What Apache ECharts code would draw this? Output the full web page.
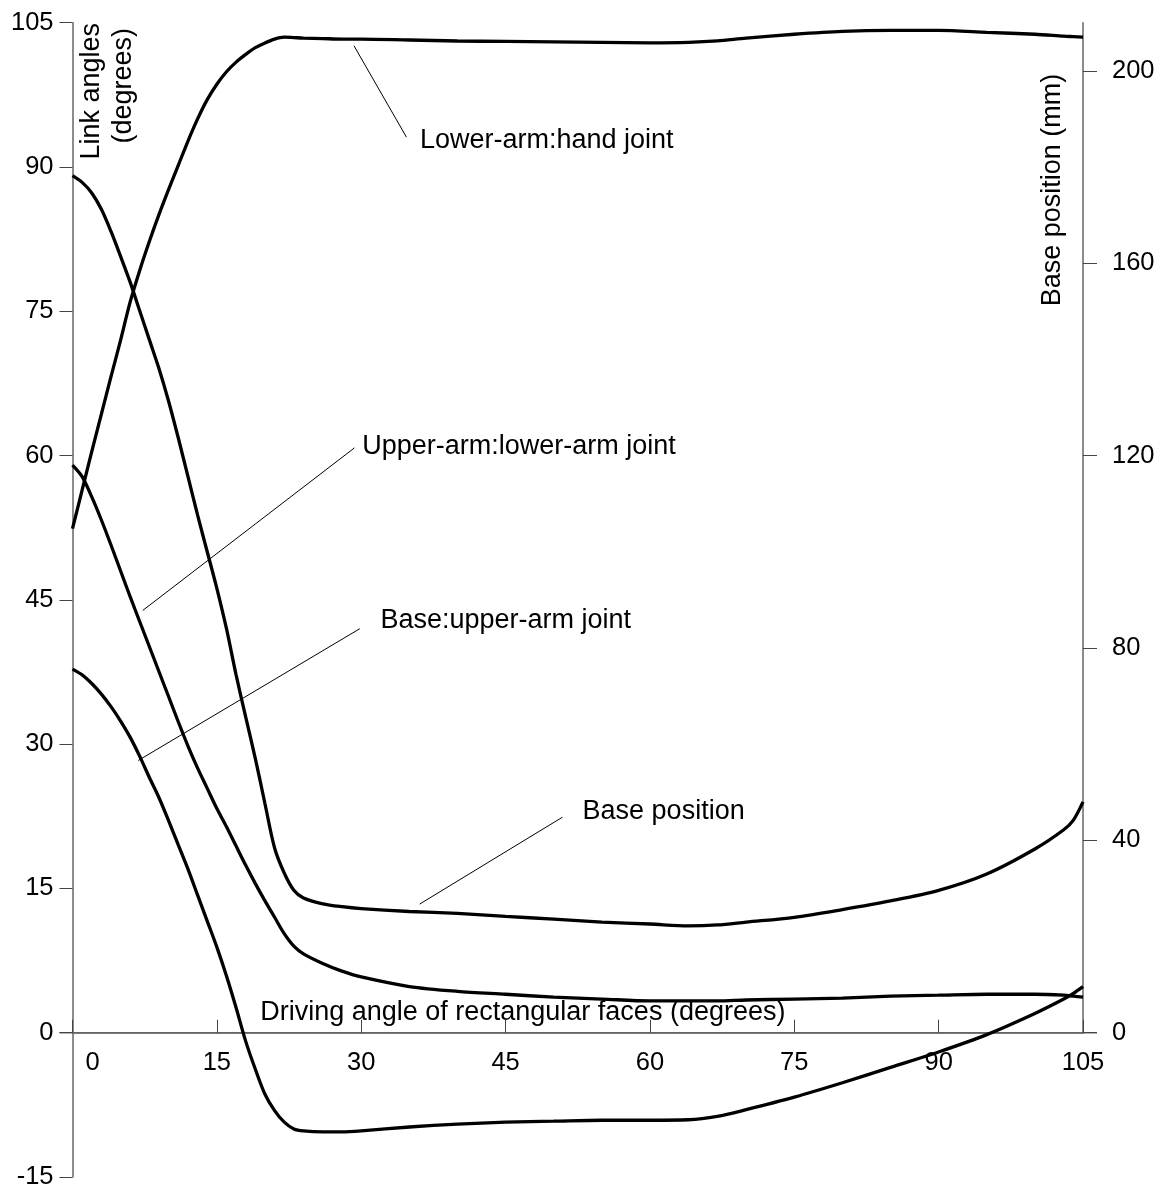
<!DOCTYPE html>
<html>
<head>
<meta charset="utf-8">
<script src="https://cdn.jsdelivr.net/npm/echarts@6.0.0/dist/echarts.min.js"></script>
<style>
  html, body { margin: 0; padding: 0; background: #fff; }
  #main { width: 1172px; height: 1191px; }
</style>
</head>
<body>
<div id="main"></div>
<script>
// driving angle (degrees), shared by all curves
var drivingAngle = [0, 1, 2, 3, 4, 5, 6, 7, 8, 9, 10, 11, 12, 13, 14, 15, 16, 17, 18, 19, 20, 21, 22, 23, 24,
    26, 28, 30, 35, 40, 45, 50, 55, 60, 64, 67, 70, 75, 80, 85, 90, 95, 100, 103, 104, 105];

// link angles (degrees)
var lowerArmHand = [52.4, 56.4, 60.4, 64.3, 68.2, 72.0, 76.0, 79.3, 82.3, 85.1, 87.7, 90.2, 92.7, 95.0, 97.0, 98.6, 99.9, 100.9, 101.7, 102.4, 102.9, 103.3, 103.5, 103.45, 103.4,
    103.35, 103.3, 103.3, 103.2, 103.1, 103.05, 103.0, 102.95, 102.9, 102.95, 103.1, 103.4, 103.8, 104.1, 104.2, 104.2, 104.0, 103.8, 103.6, 103.55, 103.5];
var upperArmLowerArm = [59.0, 57.8, 55.7, 53.3, 50.7, 48.0, 45.3, 42.7, 40.1, 37.5, 34.9, 32.3, 29.8, 27.5, 25.4, 23.3, 21.4, 19.4, 17.4, 15.5, 13.7, 12.0, 10.3, 9.0, 8.2,
    7.2, 6.4, 5.8, 4.8, 4.3, 4.0, 3.7, 3.5, 3.3, 3.3, 3.3, 3.4, 3.5, 3.6, 3.8, 3.9, 4.0, 4.0, 3.9, 3.8, 3.7];
var baseUpperArm = [37.8, 37.2, 36.3, 35.2, 33.9, 32.4, 30.7, 28.7, 26.5, 24.4, 22.0, 19.5, 17.0, 14.3, 11.6, 8.9, 5.9, 2.6, -0.9, -3.8, -6.4, -8.1, -9.3, -10.0, -10.2,
    -10.3, -10.3, -10.2, -9.8, -9.5, -9.3, -9.2, -9.1, -9.1, -9.05, -8.7, -8.0, -6.7, -5.2, -3.6, -2.0, -0.2, 2.0, 3.5, 4.1, 4.8];

// base position (mm), right axis
var basePosition = [178.2, 176.8, 174.6, 171.2, 166.6, 161.4, 156.0, 150.0, 144.0, 138.0, 131.2, 123.6, 115.6, 107.6, 100.0, 92.4, 84.0, 74.4, 65.6, 57.0, 47.6, 38.4, 33.2, 29.6, 28.0,
    26.8, 26.2, 25.8, 25.2, 24.8, 24.2, 23.6, 23.0, 22.6, 22.2, 22.4, 23.0, 24.0, 25.6, 27.4, 29.6, 33.0, 38.2, 42.2, 44.2, 48.0];

var rightTicks = [0, 40, 80, 120, 160, 200];

// annotations: [text, x, y] in data coords of the left axis, and leader lines
var labels = [
    ['Lower-arm:hand joint', 36.1, 92.8],
    ['Upper-arm:lower-arm joint', 30.1, 60.9],
    ['Base:upper-arm joint', 32.0, 42.9],
    ['Base position', 53.0, 23.0]
];
var leaders = [
    [29.25, 102.6, 34.7, 93.1],
    [29.3, 60.8, 7.3, 43.9],
    [29.85, 42.0, 6.83, 28.3],
    [50.9, 22.4, 36.07, 13.37]
];

var FONT = 'Liberation Sans';

function pairs(ys) {
    return drivingAngle.map(function (x, i) {
        return [x, ys[i]];
    });
}

function curve(name, ys, axisIndex) {
    return {
        name: name,
        type: 'line',
        xAxisIndex: axisIndex,
        yAxisIndex: axisIndex,
        data: pairs(ys),
        showSymbol: false,
        symbol: 'none',
        smooth: 0.3,
        lineStyle: {color: '#000', width: 3.3},
        silent: true,
        z: 3
    };
}

var myChart = echarts.init(document.getElementById('main'));

var option = {
    backgroundColor: '#fff',
    animation: false,
    grid: [
        {left: 72.5, right: 89, top: 22.7, bottom: 14, containLabel: false, outerBoundsMode: 'none'},
        {left: 72.5, right: 89, top: 22.7, bottom: 158.3, containLabel: false, outerBoundsMode: 'none'}
    ],
    xAxis: [
        {
            type: 'value',
            gridIndex: 0,
            min: 0,
            max: 105,
            show: false
        },
        {
            //显示的横轴放在第二个网格的底边, 正好是 0 的位置
            type: 'value',
            gridIndex: 1,
            position: 'bottom',
            min: 0,
            max: 105,
            interval: 15,
            axisLine: {show: true, onZero: false, lineStyle: {color: '#666', width: 1.5}},
            axisTick: {show: true, inside: true, length: 13, lineStyle: {color: '#444', width: 1}},
            axisLabel: {
                margin: 17,
                color: '#000',
                fontSize: 25.5,
                fontFamily: FONT,
                formatter: function (v) {
                    return v === 0 ? '{z|0}' : String(v);
                },
                rich: {
                    z: {fontSize: 25.5, fontFamily: FONT, color: '#000', padding: [0, 0, 0, 40]}
                }
            },
            splitLine: {show: false}
        }
    ],
    yAxis: [
        {
            type: 'value',
            gridIndex: 0,
            position: 'left',
            min: -15,
            max: 105,
            interval: 15,
            axisLine: {show: true, onZero: false, lineStyle: {color: '#666', width: 1.5}},
            axisTick: {show: true, inside: false, length: 13, lineStyle: {color: '#444', width: 1}},
            axisLabel: {margin: 19, color: '#000', fontSize: 25.5, fontFamily: FONT},
            splitLine: {show: false}
        },
        {
            type: 'value',
            gridIndex: 1,
            position: 'right',
            min: 0,
            max: 210,
            axisLine: {show: true, onZero: false, lineStyle: {color: '#666', width: 1.5}},
            axisTick: {show: true, inside: false, length: 14, customValues: rightTicks, lineStyle: {color: '#444', width: 1}},
            axisLabel: {margin: 29, color: '#000', fontSize: 25.5, fontFamily: FONT, customValues: rightTicks},
            splitLine: {show: false}
        }
    ],
    series: [
        curve('Lower-arm:hand joint', lowerArmHand, 0),
        curve('Upper-arm:lower-arm joint', upperArmLowerArm, 0),
        curve('Base:upper-arm joint', baseUpperArm, 0),
        curve('Base position', basePosition, 1)
    ]
};

myChart.setOption(option);

//坐标换算
function px(x, y) {
    return myChart.convertToPixel({gridIndex: 0}, [x, y]);
}

var graphics = [];

// x axis line runs a little past both y axes
var a0 = px(0, 0), a1 = px(105, 0);
graphics.push({
    type: 'line',
    shape: {x1: a0[0] - 13, y1: a0[1], x2: a1[0] + 14, y2: a1[1]},
    style: {stroke: '#666', lineWidth: 1.5},
    silent: true
});

// leader lines
for (var i = 0; i < leaders.length; i++) {
    var p = px(leaders[i][0], leaders[i][1]);
    var q = px(leaders[i][2], leaders[i][3]);
    graphics.push({
        type: 'line',
        shape: {x1: p[0], y1: p[1], x2: q[0], y2: q[1]},
        style: {stroke: '#000', lineWidth: 1},
        silent: true
    });
}

// curve labels
for (var j = 0; j < labels.length; j++) {
    var t = px(labels[j][1], labels[j][2]);
    graphics.push({
        type: 'text',
        x: t[0],
        y: t[1],
        style: {
            text: labels[j][0],
            fill: '#000',
            font: '27px "' + FONT + '"',
            textAlign: 'left',
            textVerticalAlign: 'middle'
        },
        silent: true
    });
}

// x axis title
var xt = px(19.5, 2.1);
graphics.push({
    type: 'text',
    x: xt[0],
    y: xt[1],
    style: {
        text: 'Driving angle of rectangular faces (degrees)',
        fill: '#000',
        font: '27px "' + FONT + '"',
        textAlign: 'left',
        textVerticalAlign: 'middle'
    },
    silent: true
});

// left axis title (two rotated lines)
graphics.push({
    type: 'text',
    x: 92,
    y: 23,
    rotation: Math.PI / 2,
    style: {
        text: 'Link angles',
        fill: '#000',
        font: '27px "' + FONT + '"',
        textAlign: 'right',
        textVerticalAlign: 'middle'
    },
    silent: true
});
graphics.push({
    type: 'text',
    x: 124,
    y: 28,
    rotation: Math.PI / 2,
    style: {
        text: '(degrees)',
        fill: '#000',
        font: '27px "' + FONT + '"',
        textAlign: 'right',
        textVerticalAlign: 'middle'
    },
    silent: true
});

// right axis title
graphics.push({
    type: 'text',
    x: 1053,
    y: 190,
    rotation: Math.PI / 2,
    style: {
        text: 'Base position (mm)',
        fill: '#000',
        font: '27px "' + FONT + '"',
        textAlign: 'center',
        textVerticalAlign: 'middle'
    },
    silent: true
});

myChart.setOption({graphic: graphics});
</script>
</body>
</html>
